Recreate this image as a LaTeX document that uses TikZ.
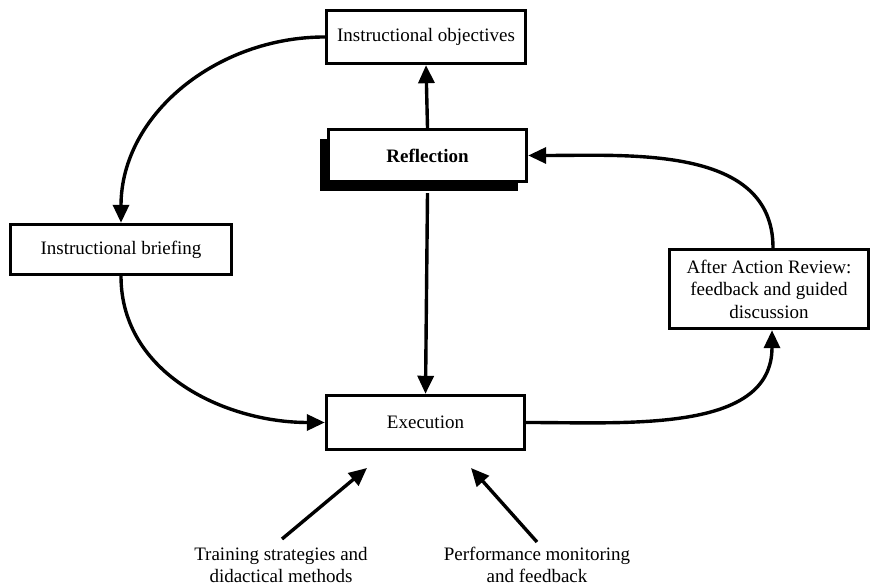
\documentclass[tikz,border=0pt]{standalone}
\usepackage{fontspec}
\setmainfont{Liberation Serif}
\usetikzlibrary{arrows.meta,shadows}
\begin{document}
\begin{tikzpicture}[x=1pt,y=1pt,
  box/.style={draw,line width=3.4pt,fill=white,inner sep=0pt,align=center,
    font=\fontsize{19}{22.5}\selectfont},
  lbl/.style={align=center,inner sep=0pt,font=\fontsize{19}{22}\selectfont},
  link/.style={line width=3.4pt,-{Triangle[length=18pt,width=16pt]}},
  solidshadow/.style={drop shadow={shadow xshift=-9pt,shadow yshift=-10pt,fill=black,opacity=1}}]
\useasboundingbox (0,0) rectangle (872,585);
% boxes
\node[box,minimum width=199pt,minimum height=53pt] (obj) at (426,548) {Instructional objectives};
\node[box,solidshadow,minimum width=198pt,minimum height=52pt,font=\fontsize{19}{22.5}\selectfont\bfseries] (refl) at (427.5,429.5) {Reflection};
\node[box,minimum width=221pt,minimum height=50pt] (brief) at (121,335.5) {Instructional briefing};
\node[box,minimum width=199pt,minimum height=79pt] (aar) at (769,296) {After Action Review:\\feedback and guided\\discussion};
\node[box,minimum width=198pt,minimum height=54pt] (exec) at (425.5,162.5) {Execution};
% external inputs
\node[lbl] (train) at (281,20) {Training strategies and\\didactical methods};
\node[lbl] (perf) at (537,20) {Performance monitoring\\and feedback};
\coordinate (traintip) at (367,117);
\coordinate (perftip) at (471,117);
\coordinate (trainstart) at (282,46);
\coordinate (perfstart) at (537,43);
% connectors
\draw[link] (refl.north) -- (obj.south);
\draw[link] ([yshift=-10pt]refl.south) -- (exec.north);
\draw[link] (obj.west) to[out=180,in=90] (brief.north);
\draw[link] (brief.south) to[out=-90,in=180] (exec.west);
\draw[link] (exec.east) to[out=0,in=-90] ([xshift=3pt]aar.south);
\draw[link] ([xshift=4pt]aar.north) to[out=90,in=0] (refl.east);
\draw[link] (trainstart) -- (traintip);
\draw[link] (perfstart) -- (perftip);
\end{tikzpicture}
\end{document}
